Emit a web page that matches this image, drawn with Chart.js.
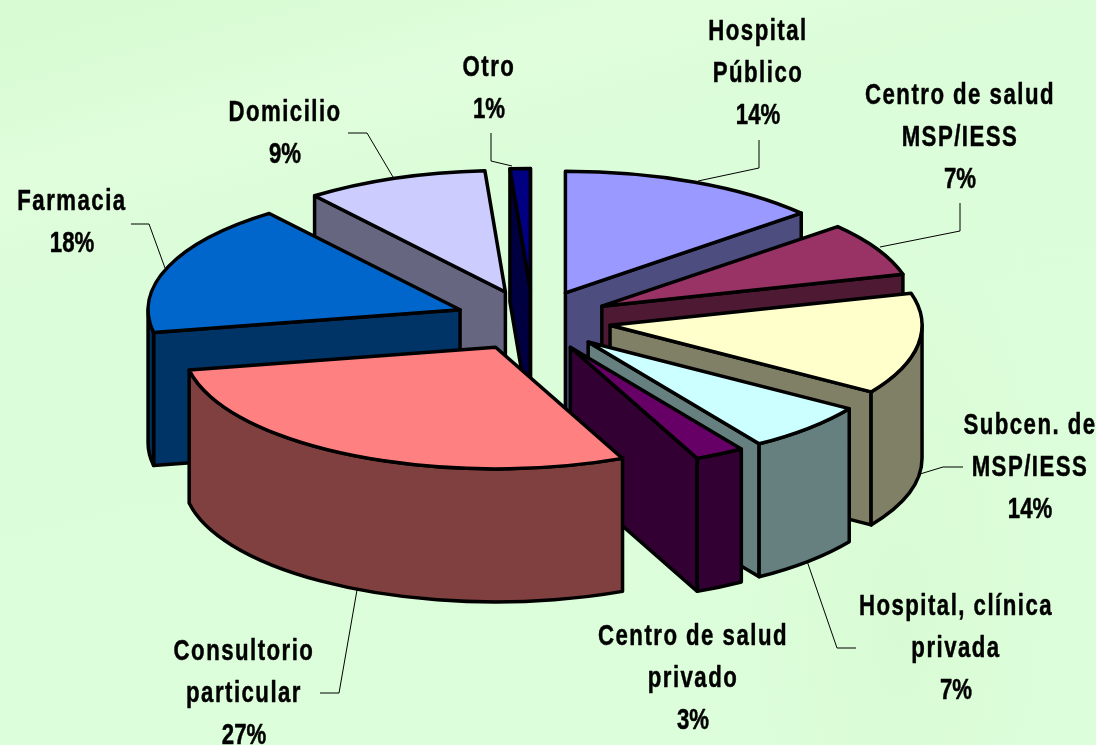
<!DOCTYPE html>
<html lang="es">
<head>
<meta charset="utf-8">
<title>Lugar de atención</title>
<script src="https://cdn.jsdelivr.net/npm/chart.js@4"></script>
<style>
    html, body { margin: 0; padding: 0; width: 1096px; height: 745px; overflow: hidden; }
    body {
        background:
            radial-gradient(ellipse 220px 520px at 900px 620px, rgba(212, 248, 205, 0.5), rgba(212, 248, 205, 0) 75%),
            linear-gradient(165deg, rgba(232, 255, 228, 0) 8%, rgba(232, 255, 228, 0.45) 18%, rgba(232, 255, 228, 0) 28%),
            linear-gradient(165deg, #d8fbd3 0%, #dcfdd9 30%, #ddfedb 100%);
    }
    canvas { display: block; }
</style>
</head>
<body>
<canvas id="chartLugar" width="1096" height="745"></canvas>
<script>
const categorias = [
    'Hospital\nPúblico',
    'Centro de salud\nMSP/IESS',
    'Subcen. de\nMSP/IESS',
    'Hospital, clínica\nprivada',
    'Centro de salud\nprivado',
    'Consultorio\nparticular',
    'Farmacia',
    'Domicilio',
    'Otro'
];
const porcentajes = [14, 7, 14, 7, 3, 27, 18, 9, 1];
const coloresTapa = ['#9999FF', '#993366', '#FFFFCC', '#CCFFFF', '#660066', '#FF8080', '#0066CC', '#CCCCFF', '#000080'];
const coloresPared = ['#4D4D80', '#4D1933', '#808066', '#668080', '#330033', '#804040', '#003366', '#666680', '#000040'];

// posicion de cada rotulo: centro x y linea base de la primera linea
const rotulos = [
    [758, 40], [960, 104], [1030, 434], [956, 615], [693, 645], [244, 660], [72, 210], [285, 121], [489, 76]
];
const guias = [
    [[759, 140], [759, 168], [698, 181]],
    [[960, 203], [960, 231], [880, 247]],
    [[963, 467], [943, 467], [920, 474]],
    [[856, 648], [837, 648], [807, 561]],
    null,
    [[320, 693], [339, 693], [357, 590]],
    [[131, 224], [149, 224], [165, 268]],
    [[348, 133], [367, 133], [393, 177]],
    [[491, 133], [491, 161], [512, 166]]
];

// de atras hacia adelante
const ordenDibujo = [8, 0, 7, 6, 1, 2, 3, 4, 5];

const centroX = 533;
const centroY = 320.5;
const aplastado = 0.39;
const separacion = 78;
const alto = 133;
const grosor = 3.5;

// correccion de perspectiva en grados: [angulo, desvio]
const desvios = [[-90, 0], [-40, -1.3], [-14, -0.8], [36, -2.8], [61, -4.4], [72, -6], [120, -2], [169, 0], [234, -1.7], [270, 0]];

function perspectiva(ang) {
    const g = ang * 180 / Math.PI;
    for (let i = 1; i < desvios.length; i++) {
        const [a0, d0] = desvios[i - 1];
        const [a1, d1] = desvios[i];
        if (g <= a1) return (g + d0 + (d1 - d0) * (g - a0) / (a1 - a0)) * Math.PI / 180;
    }
    return ang;
}

function vistaPorcion(arc) {
    const vista = Object.create(arc);
    vista.startAngle = perspectiva(arc.startAngle);
    vista.endAngle = perspectiva(arc.endAngle);
    vista.circumference = vista.endAngle - vista.startAngle;
    const medio = perspectiva((arc.startAngle + arc.endAngle) / 2);
    vista.px = centroX + Math.cos(medio) * separacion;
    vista.py = centroY + Math.sin(medio) * separacion * aplastado;
    return vista;
}

function dibujarParedes(ctx, v, color) {
    const r = v.outerRadius;
    const ry = r * aplastado;
    const s = v.startAngle;
    const e = v.endAngle;

    ctx.fillStyle = color;
    ctx.strokeStyle = '#000';
    ctx.lineWidth = grosor;
    ctx.lineJoin = 'round';

    const cara = (ang) => {
        const bx = v.px + Math.cos(ang) * r;
        const by = v.py + Math.sin(ang) * ry;
        ctx.beginPath();
        ctx.moveTo(v.px, v.py);
        ctx.lineTo(bx, by);
        ctx.lineTo(bx, by + alto);
        ctx.lineTo(v.px, v.py + alto);
        ctx.closePath();
        ctx.fill();
        ctx.stroke();
    };

    // solo las caras que miran al frente
    if (-Math.cos(s) > 0) cara(s);
    if (Math.cos(e) > 0) cara(e);

    const lo = Math.max(s, 0);
    const hi = Math.min(e, Math.PI);
    if (hi > lo) {
        ctx.beginPath();
        ctx.ellipse(v.px, v.py, r, ry, 0, lo, hi);
        ctx.ellipse(v.px, v.py + alto, r, ry, 0, hi, lo, true);
        ctx.closePath();
        ctx.fill();
        ctx.stroke();
    }
}

function dibujarTapa(ctx, v) {
    ctx.save();
    ctx.translate(v.px, v.py);
    ctx.scale(1, aplastado);
    ctx.translate(-v.x, -v.y);
    v.draw(ctx);
    ctx.restore();

    ctx.strokeStyle = '#000';
    ctx.lineWidth = grosor;
    ctx.lineJoin = 'round';
    ctx.beginPath();
    ctx.moveTo(v.px, v.py);
    ctx.ellipse(v.px, v.py, v.outerRadius, v.outerRadius * aplastado, 0, v.startAngle, v.endAngle);
    ctx.closePath();
    ctx.stroke();
}

function dibujarTexto(ctx, texto, x, y, espacio) {
    ctx.save();
    ctx.translate(x, y);
    ctx.scale(0.74, 1);
    ctx.letterSpacing = espacio + 'px';
    ctx.strokeText(texto, 0, 0);
    ctx.fillText(texto, 0, 0);
    ctx.restore();
}

const pie3d = {
    id: 'pie3d',
    beforeDatasetsDraw(chart) {
        const ctx = chart.ctx;
        const arcos = chart.getDatasetMeta(0).data;

        ordenDibujo.forEach(i => {
            const v = vistaPorcion(arcos[i]);
            dibujarParedes(ctx, v, coloresPared[i]);
            dibujarTapa(ctx, v);
        });

        // lineas guia
        ctx.strokeStyle = '#000';
        ctx.lineWidth = 1;
        guias.forEach(g => {
            if (!g) return;
            ctx.beginPath();
            g.forEach((pt, k) => k ? ctx.lineTo(pt[0], pt[1]) : ctx.moveTo(pt[0], pt[1]));
            ctx.stroke();
        });

        // rotulos
        ctx.fillStyle = '#000';
        ctx.strokeStyle = '#000';
        ctx.lineWidth = 0.5;
        ctx.font = 'bold 30px "Liberation Sans", Arial, sans-serif';
        ctx.textAlign = 'center';
        ctx.textBaseline = 'alphabetic';
        chart.data.labels.forEach((etiqueta, i) => {
            const [x, y] = rotulos[i];
            const lineas = etiqueta.split('\n');
            lineas.forEach((l, k) => dibujarTexto(ctx, l, x, y + k * 42, 2));
            dibujarTexto(ctx, porcentajes[i] + '%', x, y + lineas.length * 42, 0);
        });

        return false;
    }
};

new Chart(document.getElementById('chartLugar'), {
    type: 'pie',
    data: {
        labels: categorias,
        datasets: [{
            data: porcentajes,
            backgroundColor: coloresTapa,
            borderWidth: 0
        }]
    },
    options: {
        responsive: false,
        animation: false,
        radius: 312,
        plugins: {
            legend: { display: false },
            tooltip: { enabled: false }
        }
    },
    plugins: [pie3d]
});
</script>
</body>
</html>
